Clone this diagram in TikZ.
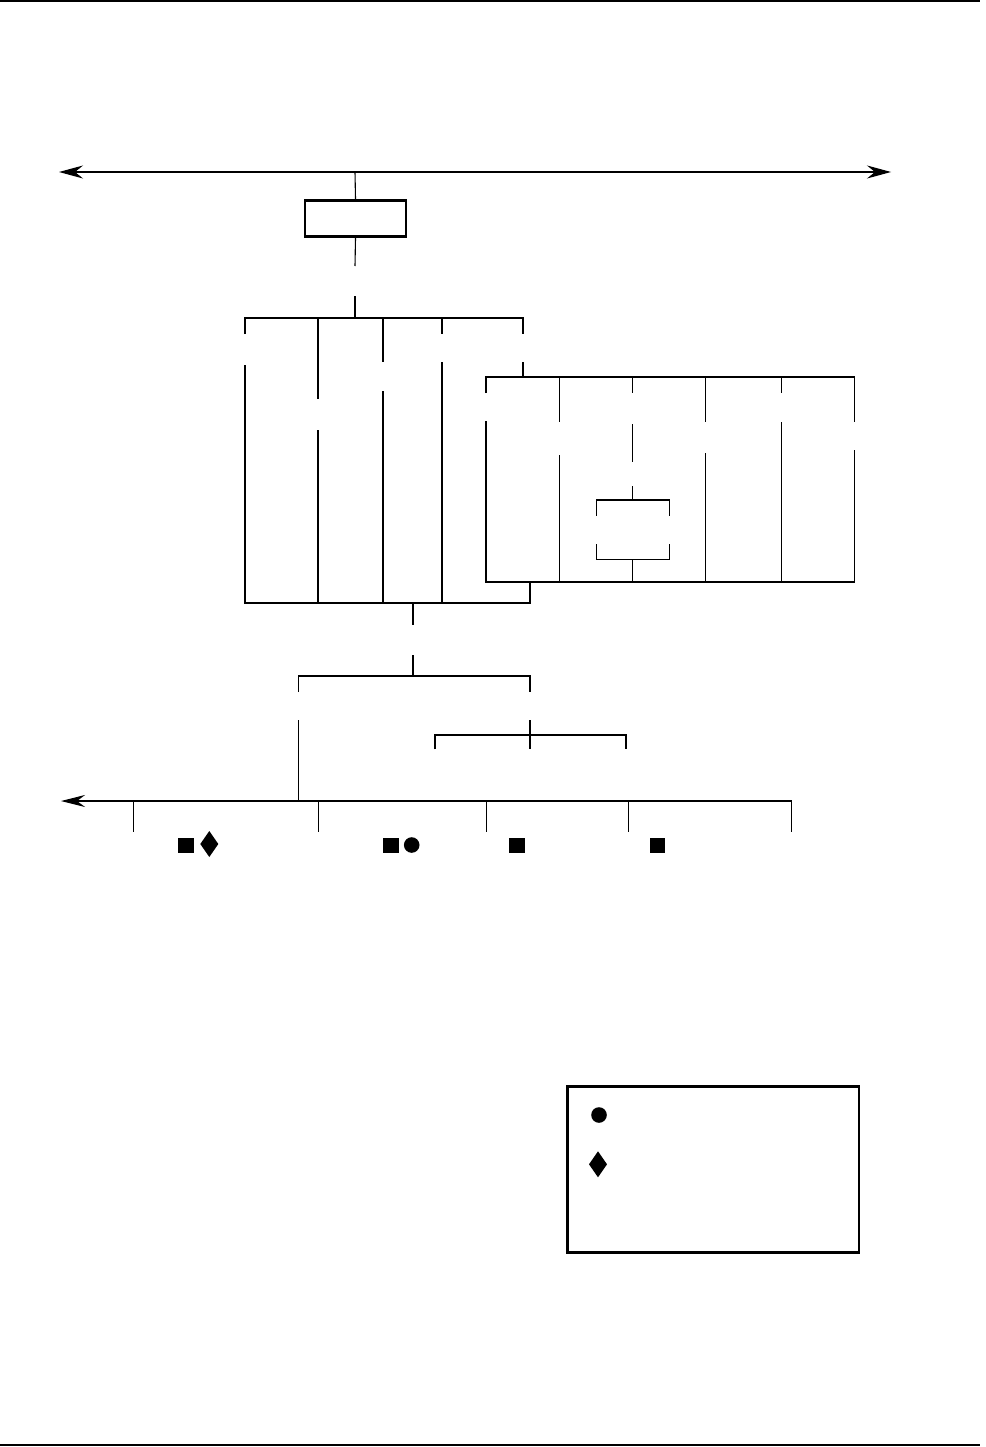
\documentclass[tikz,border=0pt]{standalone}
\usetikzlibrary{arrows.meta}
\begin{document}
\begin{tikzpicture}[x=1pt,y=-1pt,
  ln/.style={line width=1.1pt,line cap=butt},
  thk/.style={line width=2.2pt},
  mid/.style={line width=1.7pt},
  boxln/.style={line width=2.8pt},
  arr/.style={ln,-{Stealth[length=24pt,width=13pt,inset=8pt]}},
  sq/.style={fill=black},
]
\useasboundingbox (0,0) rectangle (985,1447);
% page rules
\draw[line width=1.6pt] (0,1) -- (980,1);
\draw[line width=1.6pt] (0,1445) -- (980,1445);

% top bus with arrows
\coordinate (tl) at (59,172);
\coordinate (tr) at (891,172);
\coordinate (tj) at (355,172);
\draw[arr] (tj) -- (tl);
\draw[arr] (tj) -- (tr);
\node[boxln,draw,minimum width=101pt,minimum height=36pt,inner sep=0pt] (box) at (355.5,218.5) {};
\draw[ln] (tj) -- (box.north);
\draw[ln] (box.south) -- (355,266);
\draw[ln] (355,296) -- (355,318);

% first group
\draw[ln] (245,334) -- (245,318) -- (523,318) -- (523,334);
\draw[ln] (318,318) -- (318,399);
\draw[ln] (383,318) -- (383,362);
\draw[ln] (442,318) -- (442,334);
\draw[ln] (245,365) -- (245,603) -- (530,603);
\draw[ln] (318,430) -- (318,603);
\draw[ln] (383,391) -- (383,603);
\draw[ln] (442,362) -- (442,603);
\draw[ln] (523,362) -- (523,377);

% right group
\draw[ln] (486,393) -- (486,377) -- (854.7,377) -- (854.7,422);
\draw[ln] (559.3,377) -- (559.3,422);
\draw[ln] (632.3,377) -- (632.3,393);
\draw[ln] (705.3,377) -- (705.3,422);
\draw[ln] (781.3,377) -- (781.3,393);
\draw[ln] (486,421) -- (486,582) -- (854.7,582) -- (854.7,450);
\draw[ln] (559.3,455) -- (559.3,582);
\draw[ln] (632.3,424) -- (632.3,461.7);
\draw[ln] (632.3,486) -- (632.3,500);
\draw[ln] (596.3,515.7) -- (596.3,500) -- (669.7,500) -- (669.7,515.7);
\draw[ln] (596.3,544) -- (596.3,559.7) -- (669.7,559.7) -- (669.7,544);
\draw[ln] (632.3,559.7) -- (632.3,582);
\draw[ln] (705.3,453) -- (705.3,582);
\draw[ln] (781.3,422) -- (781.3,582);
\draw[thk] (530,582) -- (530,604);

% merge
\draw[thk] (412.7,603) -- (412.7,625);
\draw[thk] (412.7,655) -- (412.7,676);
\draw[ln] (298.3,692) -- (298.3,676) -- (530,676) -- (530,692);
\draw[ln] (298.3,720) -- (298.3,801);
\draw[mid] (530,720) -- (530,749.3);
\draw[mid] (435.3,749.3) -- (435.3,735) -- (626,735) -- (626,749.3);

% bottom bus
\coordinate (bl) at (61,801);
\draw[ln,-{Stealth[length=24pt,width=12pt,inset=8pt]}] (791.3,831.7) -- (791.3,801) -- (bl);
\foreach \x in {133.3,318.3,486.3,628.3}
  \draw[ln] (\x,801) -- (\x,831.7);

% symbols
\fill (178.3,837.7) rectangle (194,852.7);
\fill (209.3,831) -- (218.3,844) -- (209.3,857) -- (200.3,844) -- cycle;
\fill (383.3,837.7) rectangle (399,852.7);
\fill (411.7,845) circle (7.8);
\fill (509.3,837.7) rectangle (525,852.7);
\fill (650,837.7) rectangle (665,852.7);

% legend
\draw[boxln] (567.5,1086.5) rectangle (859,1252.5);
\fill (599,1115) circle (7.8);
\fill (598,1151.3) -- (607,1164.3) -- (598,1177.3) -- (589,1164.3) -- cycle;
\end{tikzpicture}
\end{document}
